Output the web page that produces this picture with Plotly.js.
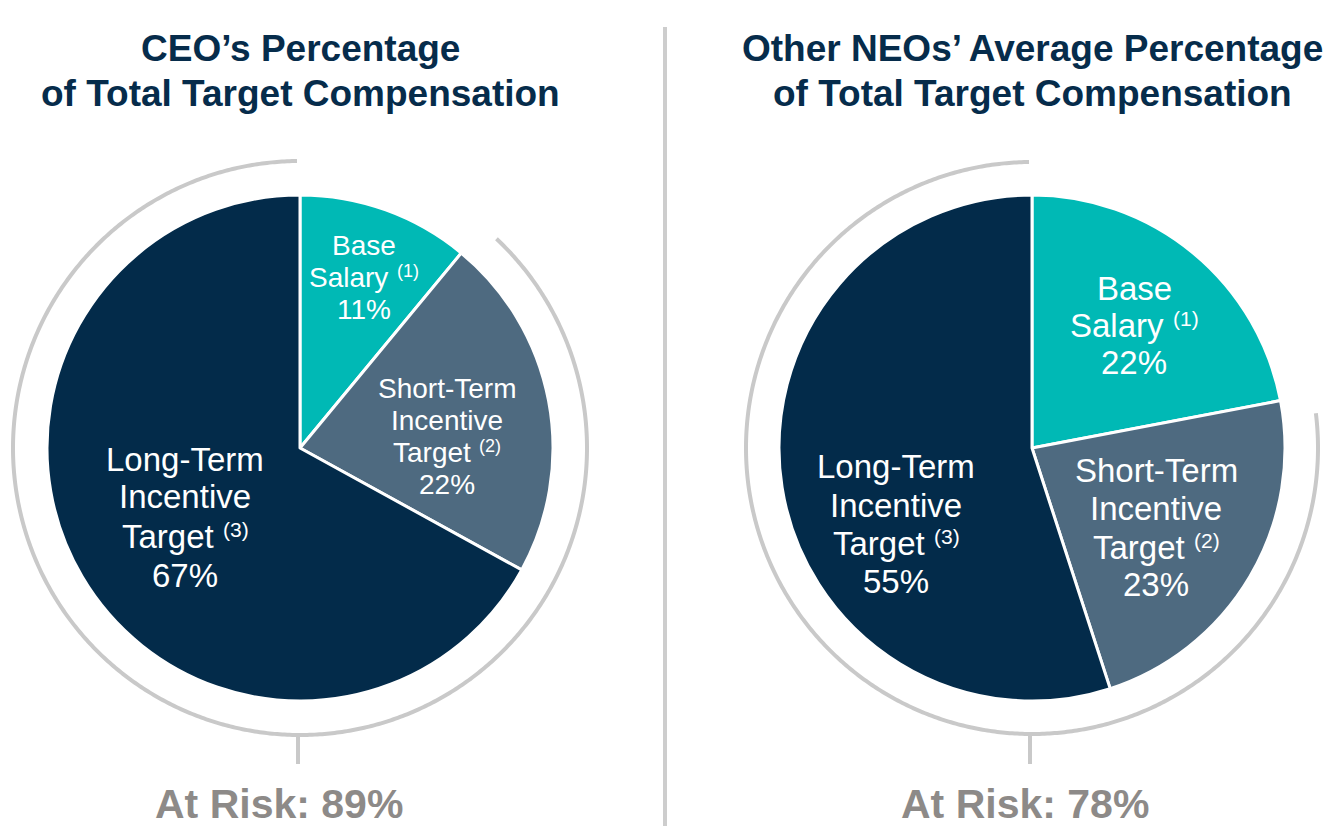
<!DOCTYPE html>
<html>
<head>
<meta charset="utf-8">
<script src="https://cdn.plot.ly/plotly-3.0.1.min.js"></script>
<style>
  html, body { margin: 0; padding: 0; background: #ffffff; }
  #chart { width: 1332px; height: 826px; }
</style>
</head>
<body>
<div id="chart"></div>
<script>
// ---------- DATA ----------
const categories = ['Base Salary', 'Short-Term Incentive Target', 'Long-Term Incentive Target'];
const labelLines = [['Base', 'Salary'], ['Short-Term', 'Incentive', 'Target'], ['Long-Term', 'Incentive', 'Target']];
const footnotes = ['(1)', '(2)', '(3)'];
const ceoValues = [11, 22, 67];
const neoValues = [22, 23, 55];
const atRiskValues = [89, 78];
const panelTitles = [
  ['CEO\u2019s Percentage', 'of Total Target Compensation'],
  ['Other NEOs\u2019 Average Percentage', 'of Total Target Compensation']
];
const atRiskLabel = 'At Risk: ';

// ---------- STYLE / LAYOUT ----------
const W = 1332, H = 826;
const FONT = 'Liberation Sans, Arial, Helvetica, sans-serif';
const sliceColors = ['#00b9b5', '#4e6a80', '#032b4a'];
const titleColor = '#062c4b';
const arcColor = '#c9c9c9';
const riskColor = '#8d8a88';
const SUP_SCALE = 0.64;

const fx = p => p / W;
const fy = p => 1 - p / H;

const ctx = document.createElement('canvas').getContext('2d');
function textWidth(t, size) {
  ctx.font = size + 'px "Liberation Sans", Arial, sans-serif';
  return ctx.measureText(t).width;
}

const panels = [
  {values: ceoValues, cx: 300, cy: 448, r: 253, arcR: 287, arcGapStart: 3.6, arcGapEnd: 0.6,
   tickX: 298, riskX: 279,
   labelPos: [{x: 364, ys: [245, 277, 309], size: 28},
              {x: 447, ys: [388, 420, 452, 484], size: 28},
              {x: 185, ys: [459, 497, 536, 575], size: 33}]},
  {values: neoValues, cx: 1032, cy: 448, r: 253, arcR: 286, arcGapStart: 3.8, arcGapEnd: 0.6,
   tickX: 1030, riskX: 1025,
   labelPos: [{x: 1134, ys: [288, 325, 362], size: 33},
              {x: 1156, ys: [470, 508, 547, 584], size: 33},
              {x: 896, ys: [466, 505, 543, 581], size: 33}]}
];

const traces = [];
const annotations = [];
const shapes = [];

// divider
shapes.push({type: 'line', xref: 'paper', yref: 'paper', x0: fx(665), x1: fx(665), y0: fy(27), y1: 0,
             line: {color: '#cdcdcd', width: 4}});

function addText(x, y, text, size, color, xanchor) {
  annotations.push({xref: 'paper', yref: 'paper', x: fx(x), y: fy(y),
    xanchor: xanchor || 'center', yanchor: 'middle', showarrow: false, text: text,
    borderpad: 0, borderwidth: 0,
    font: {family: FONT, size: size, color: color}});
}

panels.forEach((p, i) => {
  traces.push({
    type: 'pie',
    values: p.values,
    labels: categories,
    sort: false,
    direction: 'clockwise',
    rotation: 0,
    textinfo: 'none',
    textposition: 'none',
    hoverinfo: 'label+percent',
    showlegend: false,
    marker: {colors: sliceColors, line: {color: '#ffffff', width: 3}},
    domain: {x: [fx(p.cx - p.r), fx(p.cx + p.r)], y: [fy(p.cy + p.r), fy(p.cy - p.r)]}
  });

  // at-risk arc: from end of base salary slice to top
  const total = p.values.reduce((a, b) => a + b, 0);
  const startDeg = p.values[0] / total * 360 + p.arcGapStart;
  const endDeg = 360 - p.arcGapEnd;
  let path = '';
  const steps = Math.ceil((endDeg - startDeg) / 0.5);
  for (let k = 0; k <= steps; k++) {
    const a = (startDeg + (endDeg - startDeg) * k / steps) * Math.PI / 180;
    const X = p.cx + p.arcR * Math.sin(a);
    const Y = p.cy - p.arcR * Math.cos(a);
    path += (k === 0 ? 'M' : ' L') + fx(X).toFixed(5) + ',' + fy(Y).toFixed(5);
  }
  shapes.push({type: 'path', xref: 'paper', yref: 'paper', path: path,
               line: {color: arcColor, width: 4}});
  // bottom tick
  shapes.push({type: 'line', xref: 'paper', yref: 'paper',
               x0: fx(p.tickX), x1: fx(p.tickX), y0: fy(p.cy + p.arcR - 1), y1: fy(764),
               line: {color: arcColor, width: 4}});

  // titles
  panelTitles[i].forEach((t, j) => {
    addText(p.cx, [49, 94][j], '<b>' + t + '</b>', 37, titleColor);
  });

  // slice labels
  categories.forEach((c, s) => {
    const lp = p.labelPos[s];
    const lines = labelLines[s].concat([p.values[s] + '%']);
    lines.forEach((ln, j) => {
      const y = lp.ys[j];
      if (j === labelLines[s].length - 1) {
        // line carrying the footnote marker, drawn as main text + smaller raised marker
        const supSize = Math.round(lp.size * SUP_SCALE);
        const wMain = textWidth(ln + ' ', lp.size);
        const wSup = textWidth(footnotes[s], supSize);
        const left = lp.x - (wMain + wSup) / 2;
        addText(left, y, ln, lp.size, '#ffffff', 'left');
        addText(left + wMain, y - 0.2 * lp.size, footnotes[s], supSize, '#ffffff', 'left');
      } else {
        addText(lp.x, y, ln, lp.size, '#ffffff');
      }
    });
  });

  // at risk label
  addText(p.riskX, 804, '<b>' + atRiskLabel + atRiskValues[i] + '%</b>', 41, riskColor);
});

const layout = {
  width: W, height: H,
  margin: {l: 0, r: 0, t: 0, b: 0},
  paper_bgcolor: '#ffffff',
  plot_bgcolor: '#ffffff',
  showlegend: false,
  shapes: shapes,
  annotations: annotations
};

Plotly.newPlot('chart', traces, layout, {displayModeBar: false, staticPlot: true});
</script>
</body>
</html>
